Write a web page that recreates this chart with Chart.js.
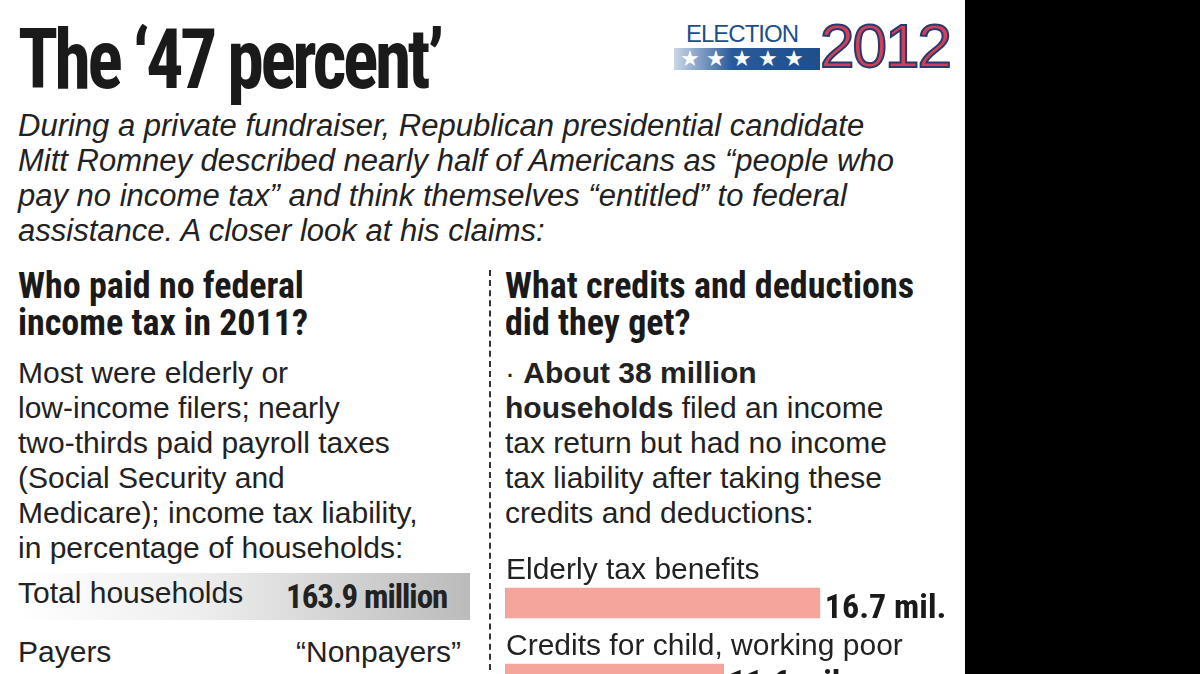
<!DOCTYPE html>
<html><head><meta charset="utf-8">
<script src="https://cdn.jsdelivr.net/npm/chart.js@4"></script>
<style>
body{margin:0;width:1200px;height:674px;overflow:hidden;background:#000;font-family:"Liberation Sans",Arial,sans-serif;position:relative}
#page{position:absolute;left:0;top:0;width:965px;height:674px;background:#fff;overflow:hidden}
.abs{position:absolute;color:#222}
.narrow{font-family:"Liberation Sans Narrow","Roboto Condensed","Liberation Sans",sans-serif;font-weight:bold}
h1{margin:0;position:absolute;left:18px;top:10px;font-size:84px;letter-spacing:-4px;color:#1a1a1a;transform:scaleX(0.88);transform-origin:left}
.intro{left:18px;top:108px;font-size:31px;font-style:italic;line-height:35px;white-space:nowrap}
.head{font-size:36px;line-height:37px;color:#1a1a1a;white-space:nowrap}
.body{font-size:30px;line-height:35px;white-space:nowrap}
</style></head>
<body>
<div id="page">
<h1 class="narrow">The ‘47 percent’</h1>
<div class="abs" style="left:672px;top:18px;width:280px;height:60px">
  <div style="position:absolute;left:14px;top:2px;font-size:24px;color:#1d4f8c;letter-spacing:-1px">ELECTION</div>
  <div style="position:absolute;left:2px;top:30px;width:140px;height:22px;background:linear-gradient(90deg,#c9d6e8,#2a5a9a 40%,#1d4f8c);color:#fff;font-size:22px;line-height:22px;letter-spacing:6px;padding-left:6px">★★★★★</div>
  <div style="position:absolute;left:148px;top:-8px;font-size:62px;color:#d0405a;-webkit-text-stroke:2px #2a3a6a;letter-spacing:-2px">2012</div>
</div>
<div class="abs intro">During a private fundraiser, Republican presidential candidate<br>Mitt Romney described nearly half of Americans as “people who<br>pay no income tax” and think themselves “entitled” to federal<br>assistance. A closer look at his claims:</div>

<div style="position:absolute;left:489px;top:270px;height:410px;border-left:2px dashed #333"></div>

<div class="abs head narrow" style="left:18px;top:268px">Who paid no federal<br>income tax in 2011?</div>
<div class="abs body" style="left:18px;top:355px">Most were elderly or<br>low-income filers; nearly<br>two-thirds paid payroll taxes<br>(Social Security and<br>Medicare); income tax liability,<br>in percentage of households:</div>
<div style="position:absolute;left:18px;top:573px;width:452px;height:47px;background:linear-gradient(90deg,#fff,#eee 40%,#bbb)"></div>
<div class="abs body" style="left:18px;top:575px">Total households</div>
<div class="abs narrow" style="left:286px;top:577px;font-size:33px;letter-spacing:-1px">163.9 million</div>
<div class="abs body" style="left:18px;top:634px">Payers</div>
<div class="abs body" style="left:296px;top:634px">“Nonpayers”</div>

<div class="abs head narrow" style="left:505px;top:268px">What credits and deductions<br>did they get?</div>
<div class="abs body" style="left:505px;top:355px">· <b>About 38 million<br>households</b> filed an income<br>tax return but had no income<br>tax liability after taking these<br>credits and deductions:</div>

<div style="position:absolute;left:505px;top:535px;width:460px;height:182px"><canvas id="c"></canvas></div>
</div>
<script>
const categories = ["Elderly tax benefits", "Credits for child, working poor"];
const values = [16.7, 11.6];
const valueLabels = ["16.7 mil.", "11.6 mil."];

const labelPlugin = {
  id: "labels",
  afterDatasetsDraw(chart){
    const ctx = chart.ctx;
    chart.getDatasetMeta(0).data.forEach((bar, i) => {
      ctx.save();
      ctx.fillStyle = "#222";
      ctx.textBaseline = "alphabetic";
      ctx.font = "30px 'Liberation Sans', Arial, sans-serif";
      ctx.fillText(categories[i], chart.chartArea.left + 1, bar.y - 24);
      ctx.font = "bold 34px 'Liberation Sans Narrow', 'Roboto Condensed', 'Liberation Sans', sans-serif";
      ctx.fillStyle = "#1a1a1a";
      ctx.fillText(valueLabels[i], bar.x + 5, bar.y + 15);
      ctx.restore();
    });
  }
};

new Chart(document.getElementById("c"), {
  type: "bar",
  data: { labels: categories, datasets: [{ data: values, backgroundColor: "#f4a59c", barThickness: 30 }] },
  options: {
    indexAxis: "y",
    responsive: true,
    maintainAspectRatio: false,
    animation: false,
    layout: { padding: { top: 30, left: 0, right: 0, bottom: 0 } },
    plugins: { legend: { display: false }, tooltip: { enabled: false } },
    scales: {
      x: { display: false, min: 0, max: 24.4 },
      y: { display: false }
    }
  },
  plugins: [labelPlugin]
});
</script>
</body></html>
